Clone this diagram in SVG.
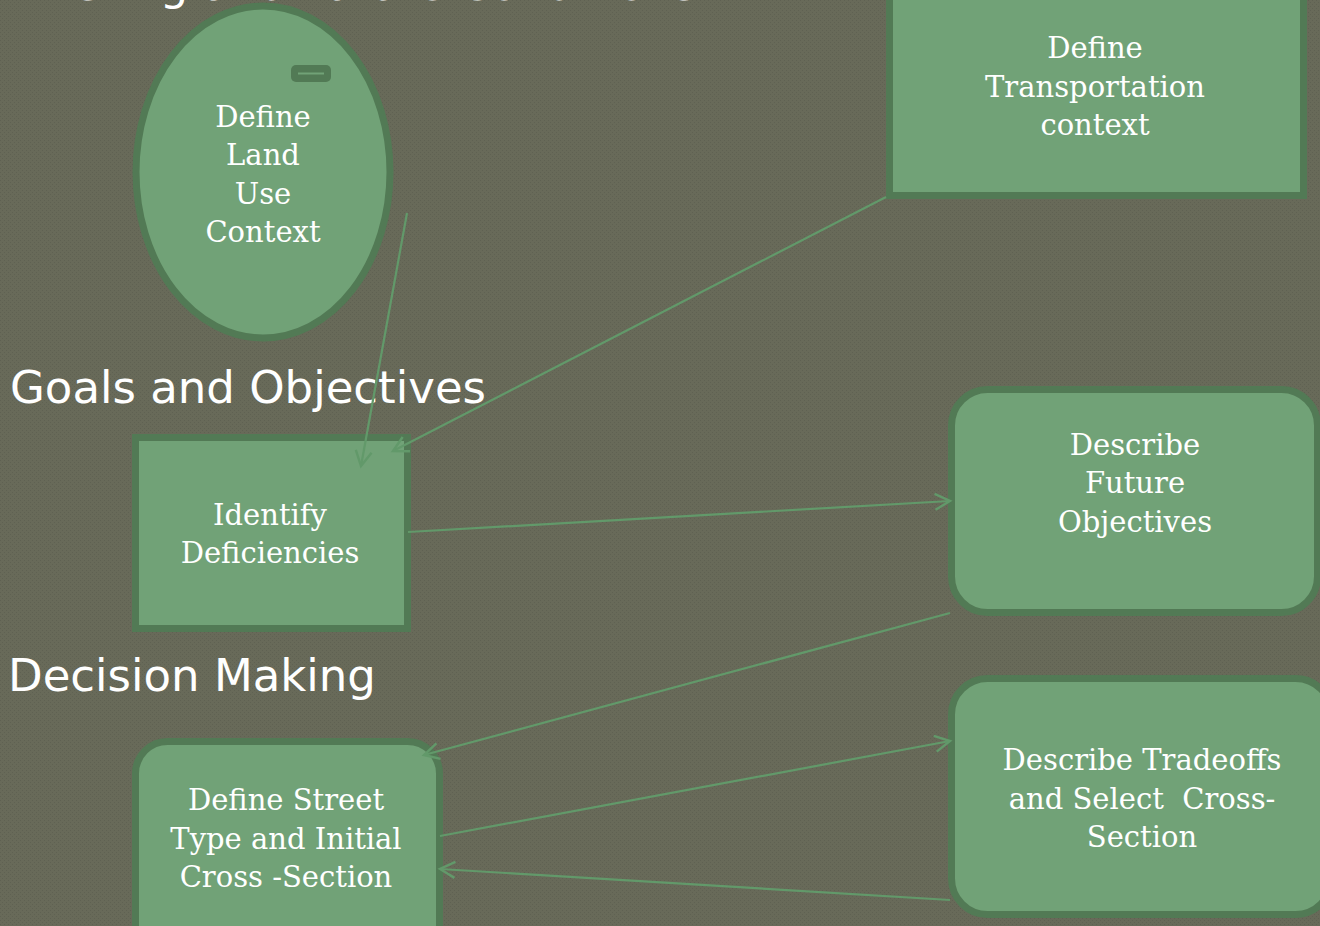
<svg xmlns="http://www.w3.org/2000/svg" width="1320" height="926" viewBox="0 0 1320 926">
<defs>
<style>
.node{fill:#71a277;stroke:#527a55;stroke-width:7}
.lbl{font-family:"DejaVu Serif","Liberation Serif",serif;font-size:29px;fill:#ffffff;text-anchor:middle}
.head{font-family:"DejaVu Sans","Liberation Sans",sans-serif;font-size:45px;fill:#ffffff}
.conn{stroke:#62996a;stroke-width:2.2;fill:none}
</style>
<pattern id="tex" width="4" height="4" patternUnits="userSpaceOnUse">
<rect width="4" height="4" fill="#686a59"/>
<rect x="0" y="0" width="1" height="1" fill="#5f6152"/>
<rect x="2" y="2" width="1" height="1" fill="#5f6152"/>
</pattern>
<marker id="arr" markerWidth="20" markerHeight="20" refX="17" refY="10" orient="auto" markerUnits="userSpaceOnUse">
<path d="M2,2 L17,10 L2,18" fill="none" stroke="#62996a" stroke-width="2.4"/>
</marker>
</defs>
<rect width="1320" height="926" fill="url(#tex)"/>

<g id="headings">
<text class="head" x="10" y="0">Existing and Future Conditions</text>
<text class="head" x="10" y="403">Goals and Objectives</text>
<text class="head" x="8" y="691">Decision Making</text>
</g>

<g id="node-land-use">
<ellipse class="node" cx="263" cy="172" rx="127" ry="166"/>
<rect x="291" y="65" width="40" height="17" rx="5" fill="#527a55"/>
<line x1="298" y1="73.5" x2="324" y2="73.5" stroke="#71a277" stroke-width="2"/>
<text class="lbl" x="263" y="127">Define</text>
<text class="lbl" x="263" y="165">Land</text>
<text class="lbl" x="263" y="204">Use</text>
<text class="lbl" x="263" y="242">Context</text>
</g>

<g id="node-transportation">
<rect class="node" x="889.5" y="-20" width="414" height="215.5"/>
<text class="lbl" x="1095" y="58">Define</text>
<text class="lbl" x="1095" y="97">Transportation</text>
<text class="lbl" x="1095" y="135">context</text>
</g>

<g id="node-deficiencies">
<rect class="node" x="135.5" y="437.5" width="272" height="191"/>
<text class="lbl" x="270" y="525">Identify</text>
<text class="lbl" x="270" y="563">Deficiencies</text>
</g>

<g id="node-future-objectives">
<rect class="node" x="951.5" y="389.5" width="366" height="223" rx="36"/>
<text class="lbl" x="1135" y="455">Describe</text>
<text class="lbl" x="1135" y="493">Future</text>
<text class="lbl" x="1135" y="532">Objectives</text>
</g>

<g id="node-tradeoffs">
<rect class="node" x="951.5" y="678.5" width="380" height="236" rx="36"/>
<text class="lbl" x="1142" y="770">Describe Tradeoffs</text>
<text class="lbl" x="1142" y="809" xml:space="preserve">and Select  Cross-</text>
<text class="lbl" x="1142" y="847">Section</text>
</g>

<g id="node-street-type">
<rect class="node" x="135.5" y="741.5" width="304" height="220" rx="32"/>
<text class="lbl" x="286" y="810">Define Street</text>
<text class="lbl" x="286" y="849">Type and Initial</text>
<text class="lbl" x="286" y="887">Cross -Section</text>
</g>

<g id="connectors">
<line class="conn" x1="407" y1="213" x2="361" y2="466" marker-end="url(#arr)"/>
<line class="conn" x1="886" y1="197" x2="393" y2="451" marker-end="url(#arr)"/>
<line class="conn" x1="408" y1="532" x2="950" y2="501" marker-end="url(#arr)"/>
<line class="conn" x1="950" y1="613" x2="424" y2="755" marker-end="url(#arr)"/>
<line class="conn" x1="440" y1="836" x2="950" y2="741" marker-end="url(#arr)"/>
<line class="conn" x1="950" y1="900" x2="440" y2="869" marker-end="url(#arr)"/>
</g>
</svg>
